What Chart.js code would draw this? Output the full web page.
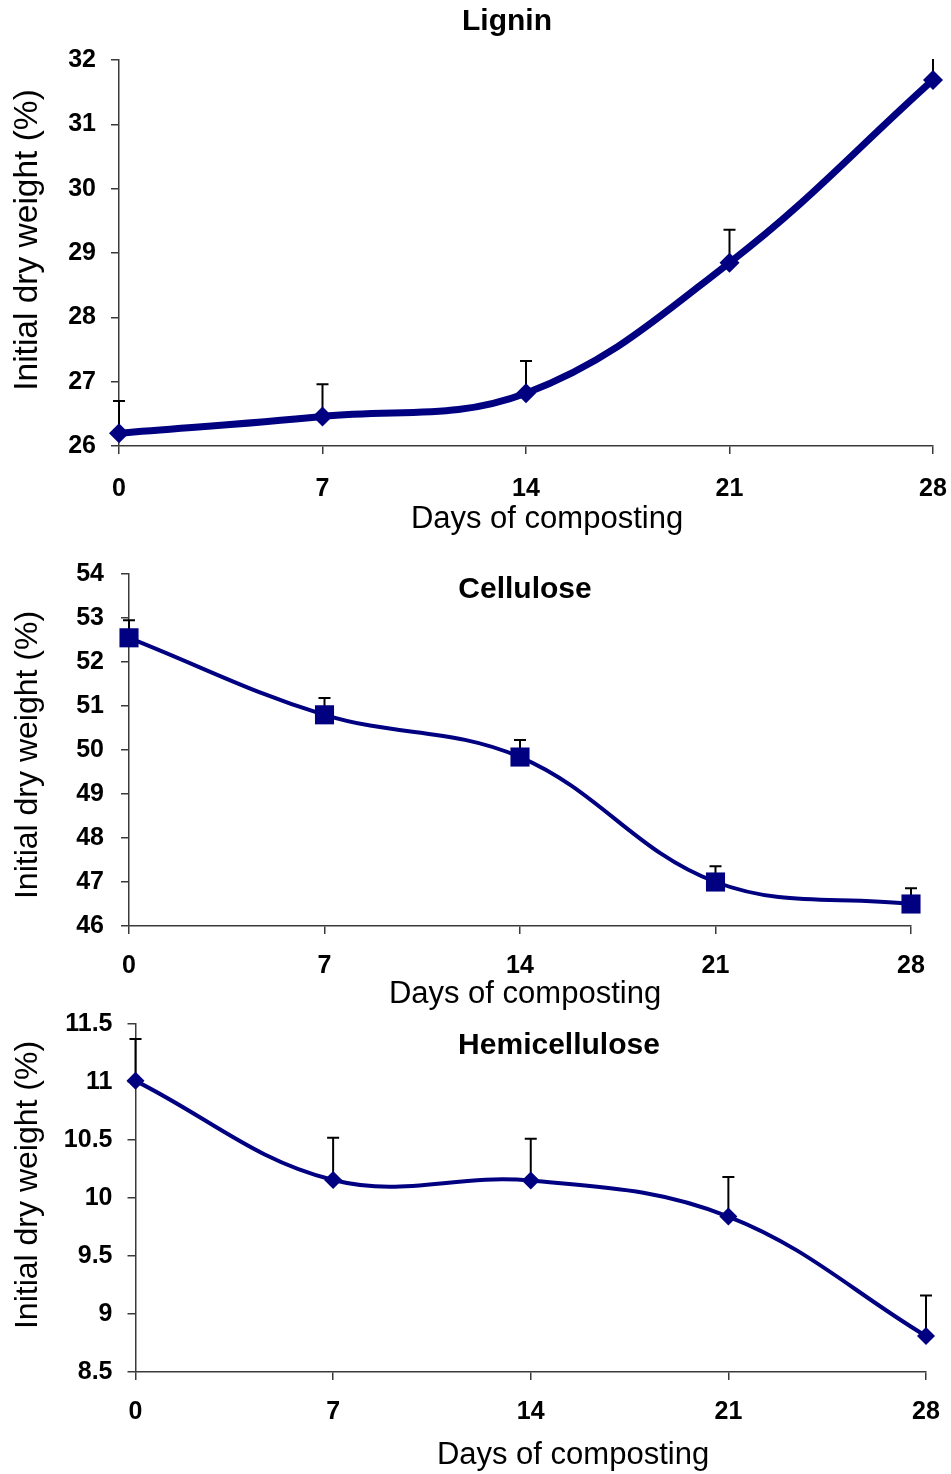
<!DOCTYPE html>
<html><head><meta charset="utf-8">
<script src="https://cdn.jsdelivr.net/npm/chart.js@4.4.1/dist/chart.umd.min.js"></script>
<style>
html,body{margin:0;padding:0;background:#fff;}
body{width:951px;height:1474px;position:relative;overflow:hidden;}
canvas{position:absolute;left:0;}
</style></head><body>
<canvas id="c1" style="top:0px" width="951" height="540"></canvas>
<canvas id="c2" style="top:540px" width="951" height="470"></canvas>
<canvas id="c3" style="top:1010px" width="951" height="464"></canvas>
<script>
// ---- data ----
const days = [0, 7, 14, 21, 28];
const xTicks = [0, 7, 14, 21, 28];

const ligninMean  = [26.2, 26.46, 26.82, 28.85, 31.69];
const ligninUpper = [26.7, 26.96, 27.32, 29.36, 32.2];
const ligninTicks = [26, 27, 28, 29, 30, 31, 32];

const celluloseMean  = [52.55, 50.8, 49.84, 47.0, 46.5];
const celluloseUpper = [52.95, 51.18, 50.23, 47.36, 46.86];
const celluloseTicks = [46, 47, 48, 49, 50, 51, 52, 53, 54];

const hemiMean  = [11.01, 10.155, 10.15, 9.84, 8.81];
const hemiUpper = [11.37, 10.52, 10.51, 10.18, 9.16];
const hemiTicks = [8.5, 9, 9.5, 10, 10.5, 11, 11.5];

const titles = ['Lignin', 'Cellulose', 'Hemicellulose'];
const xTitle = 'Days of composting';
const yTitle = 'Initial dry weight (%)';

// ---- plugins ----
const errorBars = {
  id: 'errorBars',
  beforeDatasetsDraw(chart, args, o) {
    const {ctx, chartArea, scales: {x, y}} = chart;
    ctx.save();
    ctx.beginPath();
    ctx.rect(chartArea.left - 30, chartArea.top - 1, chartArea.width + 60, chartArea.height + 2);
    ctx.clip();
    ctx.strokeStyle = '#000';
    ctx.lineWidth = 2;
    o.upper.forEach((u, i) => {
      const px = x.getPixelForValue(o.xs[i]);
      const p0 = y.getPixelForValue(o.mean[i]);
      const p1 = y.getPixelForValue(u);
      ctx.beginPath();
      ctx.moveTo(px, p0); ctx.lineTo(px, p1);
      ctx.moveTo(px - 6, p1); ctx.lineTo(px + 6, p1);
      ctx.stroke();
    });
    ctx.restore();
  }
};
const textLayer = {
  id: 'textLayer',
  afterDraw(chart, args, o) {
    const ctx = chart.ctx;
    o.items.forEach(t => {
      ctx.save();
      ctx.translate(t.x, t.y);
      if (t.rot) ctx.rotate(t.rot);
      ctx.font = t.font;
      ctx.fillStyle = '#000';
      ctx.textAlign = 'center';
      ctx.textBaseline = 'middle';
      ctx.fillText(t.text, 0, 0);
      ctx.restore();
    });
  }
};

const FONT = '"Liberation Sans", Arial, Helvetica, sans-serif';

function noPad(s) { s.paddingLeft = 0; s.paddingRight = 0; s.paddingTop = 0; s.paddingBottom = 0; }

function makeChart(id, o) {
  const canvas = document.getElementById(id);
  const H = canvas.height;
  new Chart(canvas, {
    type: 'line',
    data: {
      datasets: [{
        data: days.map((d, i) => ({x: d, y: o.mean[i]})),
        borderColor: '#000080',
        backgroundColor: '#000080',
        borderWidth: o.lw,
        tension: 0.38,
        pointStyle: o.pointStyle,
        pointRadius: o.pr,
        pointBorderWidth: 0,
        pointBackgroundColor: '#000080',
        clip: false
      }]
    },
    options: {
      responsive: false,
      animation: false,
      devicePixelRatio: 1,
      layout: {padding: {left: 0, right: 951 - o.area.right, top: o.area.top, bottom: 0}},
      plugins: {
        legend: {display: false},
        tooltip: {enabled: false},
        title: {display: false},
        errorBars: {xs: days, mean: o.mean, upper: o.upper},
        textLayer: {items: o.texts}
      },
      scales: {
        x: {
          type: 'linear', min: 0, max: 28,
          afterBuildTicks: s => { s.ticks = xTicks.map(v => ({value: v})); },
          afterFit: s => { s.height = H - o.area.bottom; noPad(s); },
          grid: {drawOnChartArea: false, drawTicks: true, tickLength: 8, color: '#3a3a3a', lineWidth: 1.5},
          border: {display: true, color: '#3a3a3a', width: 1.5},
          ticks: {color: '#000', padding: o.xpad, maxRotation: 0, autoSkip: false,
                  font: {family: FONT, size: 25, weight: 'bold', lineHeight: 1},
                  callback: v => String(v)}
        },
        y: {
          type: 'linear', min: o.yTicks[0], max: o.yTicks[o.yTicks.length - 1],
          afterBuildTicks: s => { s.ticks = o.yTicks.map(v => ({value: v})); },
          afterFit: s => { s.width = o.area.left; noPad(s); },
          grid: {drawOnChartArea: false, drawTicks: true, tickLength: 8, color: '#3a3a3a', lineWidth: 1.5},
          border: {display: true, color: '#3a3a3a', width: 1.5},
          ticks: {color: '#000', padding: o.ypad, autoSkip: false,
                  font: {family: FONT, size: 25, weight: 'bold', lineHeight: 1},
                  callback: v => String(v)}
        }
      }
    },
    plugins: [errorBars, textLayer]
  });
}

makeChart('c1', {
  mean: ligninMean, upper: ligninUpper, yTicks: ligninTicks,
  area: {left: 119, right: 933, top: 60, bottom: 446},
  lw: 7, pointStyle: 'rectRot', pr: 10, xpad: 23, ypad: 15,
  texts: [
    {text: titles[0], x: 507, y: 22, font: 'bold 30px ' + FONT},
    {text: xTitle, x: 547, y: 519, font: '31px ' + FONT},
    {text: yTitle, x: 28, y: 240, rot: -Math.PI / 2, font: '33.5px ' + FONT}
  ]
});
makeChart('c2', {
  mean: celluloseMean, upper: celluloseUpper, yTicks: celluloseTicks,
  area: {left: 129, right: 911, top: 34, bottom: 386},
  lw: 4, pointStyle: 'rect', pr: 13.5, xpad: 20, ypad: 17,
  texts: [
    {text: titles[1], x: 525, y: 50, font: 'bold 30px ' + FONT},
    {text: xTitle, x: 525, y: 454, font: '31px ' + FONT},
    {text: yTitle, x: 28, y: 215, rot: -Math.PI / 2, font: '32px ' + FONT}
  ]
});
makeChart('c3', {
  mean: hemiMean, upper: hemiUpper, yTicks: hemiTicks,
  area: {left: 135.5, right: 926, top: 14, bottom: 362},
  lw: 4, pointStyle: 'rectRot', pr: 9, xpad: 20, ypad: 15,
  texts: [
    {text: titles[2], x: 559, y: 36, font: 'bold 30px ' + FONT},
    {text: xTitle, x: 573, y: 445, font: '31px ' + FONT},
    {text: yTitle, x: 28, y: 175, rot: -Math.PI / 2, font: '32px ' + FONT}
  ]
});
</script>
</body></html>
